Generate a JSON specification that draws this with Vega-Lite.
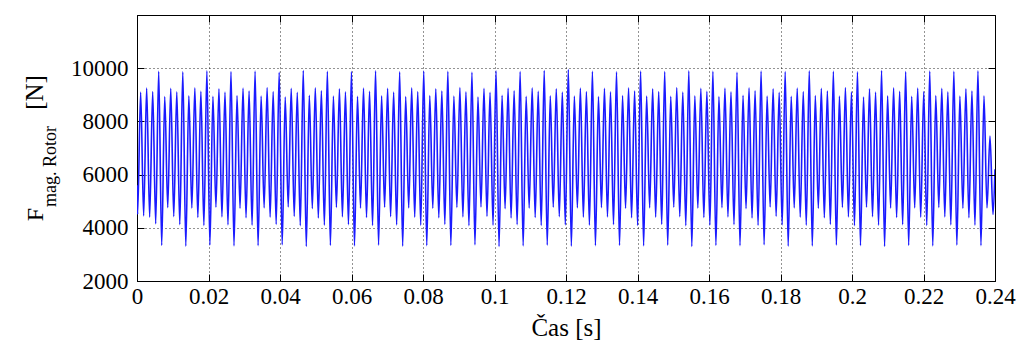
{
"$schema": "https://vega.github.io/schema/vega-lite/v6.json",
"width": 858, "height": 266,
"autosize": {"type": "none"},
"padding": {"left": 137, "top": 15, "right": 29, "bottom": 74},
"background": "white",
"config": {"font": "Liberation Serif", "view": {"stroke": "black", "strokeWidth": 1},
"axis": {"labelFont": "Liberation Serif, Times New Roman, serif", "titleFont": "Liberation Serif, Times New Roman, serif"}},
"datasets": {"sig": [
{"t":0,"f":5600},{"t":0.00017,"f":4500},{"t":0.00102,"f":9100},{"t":0.00186,"f":4450},{"t":0.0027,"f":9250},{"t":0.00354,"f":4400},{"t":0.00439,"f":9120},{"t":0.00523,"f":4150},
{"t":0.00607,"f":9880},{"t":0.00691,"f":3340},{"t":0.00776,"f":8930},{"t":0.0086,"f":4760},{"t":0.00944,"f":9240},{"t":0.01028,"f":4420},{"t":0.01113,"f":9110},{"t":0.01197,"f":4120},
{"t":0.01281,"f":9860},{"t":0.01365,"f":3310},{"t":0.0145,"f":8960},{"t":0.01534,"f":4740},{"t":0.01618,"f":9260},{"t":0.01702,"f":4390},{"t":0.01787,"f":9130},{"t":0.01871,"f":4090},
{"t":0.01955,"f":9900},{"t":0.02039,"f":3350},{"t":0.02124,"f":8940},{"t":0.02208,"f":4770},{"t":0.02292,"f":9230},{"t":0.02376,"f":4410},{"t":0.02461,"f":9100},{"t":0.02545,"f":4110},
{"t":0.02629,"f":9870},{"t":0.02713,"f":3320},{"t":0.02798,"f":8970},{"t":0.02882,"f":4730},{"t":0.02966,"f":9250},{"t":0.0305,"f":4380},{"t":0.03135,"f":9140},{"t":0.03219,"f":4100},
{"t":0.03303,"f":9890},{"t":0.03387,"f":3330},{"t":0.03472,"f":8950},{"t":0.03556,"f":4750},{"t":0.0364,"f":9270},{"t":0.03724,"f":4400},{"t":0.03809,"f":9120},{"t":0.03893,"f":4130},
{"t":0.03977,"f":9850},{"t":0.04061,"f":3360},{"t":0.04146,"f":8920},{"t":0.0423,"f":4780},{"t":0.04314,"f":9240},{"t":0.04398,"f":4430},{"t":0.04483,"f":9090},{"t":0.04567,"f":4080},
{"t":0.04651,"f":9910},{"t":0.04735,"f":3300},{"t":0.0482,"f":8980},{"t":0.04904,"f":4720},{"t":0.04988,"f":9260},{"t":0.05072,"f":4370},{"t":0.05157,"f":9150},{"t":0.05241,"f":4100},
{"t":0.05325,"f":9880},{"t":0.05409,"f":3340},{"t":0.05494,"f":8950},{"t":0.05578,"f":4760},{"t":0.05662,"f":9230},{"t":0.05746,"f":4410},{"t":0.05831,"f":9110},{"t":0.05915,"f":4120},
{"t":0.05999,"f":9870},{"t":0.06083,"f":3320},{"t":0.06168,"f":8940},{"t":0.06252,"f":4740},{"t":0.06336,"f":9250},{"t":0.0642,"f":4390},{"t":0.06505,"f":9130},{"t":0.06589,"f":4090},
{"t":0.06673,"f":9900},{"t":0.06757,"f":3350},{"t":0.06842,"f":8960},{"t":0.06926,"f":4770},{"t":0.0701,"f":9240},{"t":0.07094,"f":4420},{"t":0.07179,"f":9100},{"t":0.07263,"f":4110},
{"t":0.07347,"f":9860},{"t":0.07431,"f":3310},{"t":0.07516,"f":8930},{"t":0.076,"f":4750},{"t":0.07684,"f":9260},{"t":0.07768,"f":4400},{"t":0.07853,"f":9120},{"t":0.07937,"f":4100},
{"t":0.08021,"f":9890},{"t":0.08105,"f":3330},{"t":0.0819,"f":8970},{"t":0.08274,"f":4730},{"t":0.08358,"f":9230},{"t":0.08442,"f":4380},{"t":0.08527,"f":9140},{"t":0.08611,"f":4130},
{"t":0.08695,"f":9880},{"t":0.08779,"f":3340},{"t":0.08864,"f":8950},{"t":0.08948,"f":4760},{"t":0.09032,"f":9270},{"t":0.09116,"f":4410},{"t":0.09201,"f":9110},{"t":0.09285,"f":4080},
{"t":0.09369,"f":9850},{"t":0.09453,"f":3360},{"t":0.09538,"f":8920},{"t":0.09622,"f":4780},{"t":0.09706,"f":9240},{"t":0.0979,"f":4430},{"t":0.09875,"f":9090},{"t":0.09959,"f":4100},
{"t":0.10043,"f":9900},{"t":0.10127,"f":3300},{"t":0.10212,"f":8980},{"t":0.10296,"f":4720},{"t":0.1038,"f":9250},{"t":0.10464,"f":4370},{"t":0.10549,"f":9150},{"t":0.10633,"f":4120},
{"t":0.10717,"f":9870},{"t":0.10801,"f":3320},{"t":0.10886,"f":8940},{"t":0.1097,"f":4740},{"t":0.11054,"f":9260},{"t":0.11138,"f":4390},{"t":0.11223,"f":9130},{"t":0.11307,"f":4090},
{"t":0.11391,"f":9910},{"t":0.11475,"f":3350},{"t":0.1156,"f":8960},{"t":0.11644,"f":4770},{"t":0.11728,"f":9230},{"t":0.11812,"f":4420},{"t":0.11897,"f":9100},{"t":0.11981,"f":4110},
{"t":0.12065,"f":9950},{"t":0.12149,"f":3310},{"t":0.12234,"f":8950},{"t":0.12318,"f":4750},{"t":0.12402,"f":9250},{"t":0.12486,"f":4400},{"t":0.12571,"f":9120},{"t":0.12655,"f":4100},
{"t":0.12739,"f":9880},{"t":0.12823,"f":3330},{"t":0.12908,"f":8930},{"t":0.12992,"f":4760},{"t":0.13076,"f":9240},{"t":0.1316,"f":4410},{"t":0.13245,"f":9110},{"t":0.13329,"f":4120},
{"t":0.13413,"f":9860},{"t":0.13497,"f":3340},{"t":0.13582,"f":8970},{"t":0.13666,"f":4730},{"t":0.1375,"f":9260},{"t":0.13834,"f":4380},{"t":0.13919,"f":9140},{"t":0.14003,"f":4090},
{"t":0.14087,"f":9890},{"t":0.14171,"f":3320},{"t":0.14256,"f":8950},{"t":0.1434,"f":4750},{"t":0.14424,"f":9230},{"t":0.14508,"f":4400},{"t":0.14593,"f":9120},{"t":0.14677,"f":4130},
{"t":0.14761,"f":9870},{"t":0.14845,"f":3350},{"t":0.1493,"f":8940},{"t":0.15014,"f":4770},{"t":0.15098,"f":9270},{"t":0.15182,"f":4420},{"t":0.15267,"f":9100},{"t":0.15351,"f":4080},
{"t":0.15435,"f":9900},{"t":0.15519,"f":3300},{"t":0.15604,"f":8960},{"t":0.15688,"f":4740},{"t":0.15772,"f":9240},{"t":0.15856,"f":4390},{"t":0.15941,"f":9130},{"t":0.16025,"f":4100},
{"t":0.16109,"f":9880},{"t":0.16193,"f":3340},{"t":0.16278,"f":8930},{"t":0.16362,"f":4760},{"t":0.16446,"f":9250},{"t":0.1653,"f":4410},{"t":0.16615,"f":9110},{"t":0.16699,"f":4120},
{"t":0.16783,"f":9850},{"t":0.16867,"f":3330},{"t":0.16952,"f":8980},{"t":0.17036,"f":4720},{"t":0.1712,"f":9260},{"t":0.17204,"f":4370},{"t":0.17289,"f":9150},{"t":0.17373,"f":4090},
{"t":0.17457,"f":9890},{"t":0.17541,"f":3360},{"t":0.17626,"f":8950},{"t":0.1771,"f":4780},{"t":0.17794,"f":9230},{"t":0.17878,"f":4430},{"t":0.17963,"f":9090},{"t":0.18047,"f":4110},
{"t":0.18131,"f":9870},{"t":0.18215,"f":3310},{"t":0.183,"f":8940},{"t":0.18384,"f":4750},{"t":0.18468,"f":9250},{"t":0.18552,"f":4400},{"t":0.18637,"f":9120},{"t":0.18721,"f":4100},
{"t":0.18805,"f":9900},{"t":0.18889,"f":3320},{"t":0.18974,"f":8970},{"t":0.19058,"f":4730},{"t":0.19142,"f":9240},{"t":0.19226,"f":4380},{"t":0.19311,"f":9140},{"t":0.19395,"f":4130},
{"t":0.19479,"f":9880},{"t":0.19563,"f":3350},{"t":0.19648,"f":8950},{"t":0.19732,"f":4760},{"t":0.19816,"f":9270},{"t":0.199,"f":4410},{"t":0.19985,"f":9110},{"t":0.20069,"f":4080},
{"t":0.20153,"f":9860},{"t":0.20237,"f":3330},{"t":0.20322,"f":8920},{"t":0.20406,"f":4770},{"t":0.2049,"f":9230},{"t":0.20574,"f":4420},{"t":0.20659,"f":9100},{"t":0.20743,"f":4100},
{"t":0.20827,"f":9910},{"t":0.20911,"f":3300},{"t":0.20996,"f":8960},{"t":0.2108,"f":4740},{"t":0.21164,"f":9260},{"t":0.21248,"f":4390},{"t":0.21333,"f":9130},{"t":0.21417,"f":4120},
{"t":0.21501,"f":9870},{"t":0.21585,"f":3340},{"t":0.2167,"f":8940},{"t":0.21754,"f":4750},{"t":0.21838,"f":9250},{"t":0.21922,"f":4400},{"t":0.22007,"f":9120},{"t":0.22091,"f":4090},
{"t":0.22175,"f":9890},{"t":0.22259,"f":3320},{"t":0.22344,"f":8970},{"t":0.22428,"f":4760},{"t":0.22512,"f":9240},{"t":0.22596,"f":4410},{"t":0.22681,"f":9110},{"t":0.22765,"f":4110},
{"t":0.22849,"f":9880},{"t":0.22933,"f":3350},{"t":0.23018,"f":8950},{"t":0.23102,"f":4730},{"t":0.23186,"f":9230},{"t":0.2327,"f":4380},{"t":0.23355,"f":9140},{"t":0.23439,"f":4100},
{"t":0.23523,"f":9900},{"t":0.23607,"f":3330},{"t":0.23692,"f":8960},{"t":0.23776,"f":4750},{"t":0.2386,"f":7450},{"t":0.23944,"f":4500},{"t":0.24,"f":6200}
]},
"resolve": {"axis": {"x": "independent", "y": "independent"}},
"layer": [
{
"data": {"name": "sig"},
"mark": {"type": "line", "color": "#1a1aff", "strokeWidth": 1.6, "interpolate": "monotone", "clip": true},
"encoding": {
"x": {"field": "t", "type": "quantitative", "scale": {"domain": [0, 0.24], "nice": false, "zero": false},
"axis": {"orient": "bottom", "values": [0,0.02,0.04,0.06,0.08,0.1,0.12,0.14,0.16,0.18,0.2,0.22,0.24], "format": ".2~f",
"labelFont": "Liberation Serif, Times New Roman, serif", "labelFontSize": 23, "labelColor": "black", "labelPadding": 11, "labelFlush": false, "labelOverlap": false,
"tickColor": "black", "tickSize": -7, "domainColor": "black",
"grid": true, "gridColor": "black", "gridDash": [1, 3], "gridOpacity": 0.85,
"title": "Čas [s]", "titleFontSize": 25, "titleFontWeight": "normal", "titleColor": "black",
"titleY": 54, "titleBaseline": "alphabetic"}},
"y": {"field": "f", "type": "quantitative", "scale": {"domain": [2000, 12000], "nice": false, "zero": false},
"axis": {"orient": "left", "values": [2000,4000,6000,8000,10000], "format": "d",
"labelFont": "Liberation Serif, Times New Roman, serif", "labelFontSize": 23, "labelColor": "black", "labelPadding": 16, "labelFlush": false, "labelOverlap": false,
"tickColor": "black", "tickSize": -7, "domainColor": "black",
"grid": true, "gridColor": "black", "gridDash": [1, 3], "gridOpacity": 0.85,
"title": "F", "titleFontSize": 24, "titleFontWeight": "normal", "titleColor": "black",
"titleAngle": 270, "titleX": -95, "titleY": 199, "titleBaseline": "alphabetic", "titleAlign": "center"}}
}
},
{
"data": {"values": [{}]},
"mark": {"type": "point", "opacity": 0},
"encoding": {
"y": {"datum": 6000, "type": "quantitative",
"axis": {"orient": "left", "labels": false, "ticks": false, "domain": false, "grid": false,
"title": "mag. Rotor", "titleFontSize": 18, "titleFontWeight": "normal", "titleColor": "black",
"titleAngle": 270, "titleX": -82, "titleY": 151, "titleBaseline": "alphabetic", "titleAlign": "center"}}
}
},
{
"data": {"values": [{}]},
"mark": {"type": "point", "opacity": 0},
"encoding": {
"y": {"datum": 6000, "type": "quantitative",
"axis": {"orient": "left", "labels": false, "ticks": false, "domain": false, "grid": false,
"title": "[N]", "titleFontSize": 25, "titleFontWeight": "normal", "titleColor": "black",
"titleAngle": 270, "titleX": -95, "titleY": 77, "titleBaseline": "alphabetic", "titleAlign": "center"}}
}
},
{
"data": {"values": [{}]},
"mark": {"type": "point", "opacity": 0},
"encoding": {
"x": {"datum": 0.12, "type": "quantitative",
"axis": {"orient": "top", "values": [0,0.02,0.04,0.06,0.08,0.1,0.12,0.14,0.16,0.18,0.2,0.22,0.24], "labels": false,
"tickColor": "black", "tickSize": -7, "domain": false, "grid": false, "title": null, "zindex": 1}},
"y": {"datum": 6000, "type": "quantitative",
"axis": {"orient": "right", "values": [2000,4000,6000,8000,10000], "labels": false,
"tickColor": "black", "tickSize": -7, "domain": false, "grid": false, "title": null, "zindex": 1}}
}
}
]
}
